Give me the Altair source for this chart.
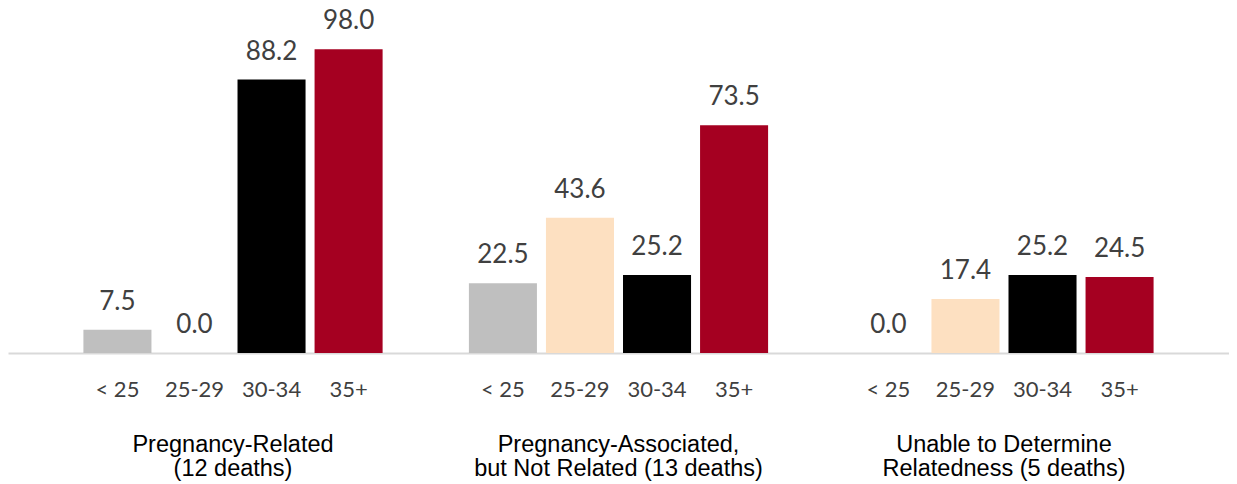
import altair as alt
import pandas as pd

group_ids = ["g1", "g2", "g3"]
group_labels = [
    "Pregnancy-Related\n(12 deaths)",
    "Pregnancy-Associated,\nbut Not Related (13 deaths)",
    "Unable to Determine\nRelatedness (5 deaths)",
]
ages = ["< 25", "25-29", "30-34", "35+"]
values_g1 = [7.5, 0.0, 88.2, 98.0]
values_g2 = [22.5, 43.6, 25.2, 73.5]
values_g3 = [0.0, 17.4, 25.2, 24.5]
age_colors = ["#bfbfbf", "#fde0c1", "#000000", "#a50021"]

rows = []
for gid, vals in zip(group_ids, [values_g1, values_g2, values_g3]):
    for a, v in zip(ages, vals):
        rows.append({"group": gid, "age": a, "value": v})
df = pd.DataFrame(rows)
gdf = pd.DataFrame({"group": group_ids, "label": group_labels})

xscale = alt.Scale(domain=group_ids, paddingInner=0, paddingOuter=0.0837)
xoff = alt.Scale(domain=ages, paddingInner=0.117, paddingOuter=0.56)
yscale = alt.Scale(domain=[0, 111.3], nice=False, zero=True)

base = alt.Chart(df)

bars = base.mark_bar().encode(
    x=alt.X("group:N", scale=xscale,
            axis=alt.Axis(labels=False, ticks=False, title=None, domainColor="#d9d9d9",
                          domainWidth=2, grid=False)),
    xOffset=alt.XOffset("age:N", scale=xoff),
    y=alt.Y("value:Q", scale=yscale, axis=None),
    color=alt.Color("age:N", scale=alt.Scale(domain=ages, range=age_colors), legend=None),
)

vals = base.mark_text(font="Lato", fontSize=26, color="#404040", dy=-20, baseline="alphabetic").encode(
    x=alt.X("group:N", scale=xscale),
    xOffset=alt.XOffset("age:N", scale=xoff),
    y=alt.Y("value:Q", scale=yscale),
    text=alt.Text("value:Q", format=".1f"),
)

agelab = base.mark_text(font="Lato", fontSize=22, color="#404040", dy=44, baseline="alphabetic").encode(
    x=alt.X("group:N", scale=xscale),
    xOffset=alt.XOffset("age:N", scale=xoff),
    y=alt.datum(0),
    text="age:N",
)

glab = alt.Chart(gdf).mark_text(font="Liberation Sans", fontSize=23.5, color="#000000", dy=99,
                                 baseline="alphabetic", lineBreak="\n", lineHeight=24).encode(
    x=alt.X("group:N", scale=xscale),
    y=alt.datum(0),
    text="label:N",
)

chart = alt.layer(bars, vals, agelab, glab).properties(
    width=1221, height=345, padding=0
).configure_view(stroke=None)

chart.save("out.html", embed_options={"renderer": "svg", "actions": False})
